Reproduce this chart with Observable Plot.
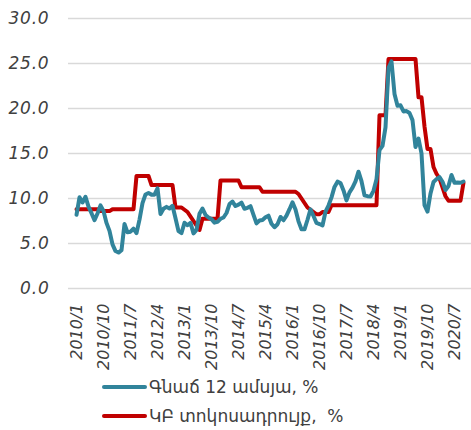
<!DOCTYPE html>
<html>
<head>
<meta charset="utf-8">
<script src="https://cdn.jsdelivr.net/npm/d3@7"></script>
<script src="https://cdn.jsdelivr.net/npm/@observablehq/plot@0.6"></script>
<style>
  html, body { margin: 0; padding: 0; background: #fff; }
  #chart { width: 471px; }
  #chart svg { display: block; overflow: visible; }
  [aria-label="y-axis tick label"] text { font-style: italic; font-size: 17px; letter-spacing: 0.8px; }
  [aria-label="x-axis tick label"] text { font-style: italic; font-size: 16px; }
  .legend { font-family: "DejaVu Sans", sans-serif; font-size: 17px; color: #404040; }
  .legend .row { display: flex; align-items: center; height: 29px; padding-left: 102px; }
  .legend .sw { width: 45px; height: 4px; border-radius: 2px; margin-right: 2px; }
</style>
</head>
<body>
<div id="chart"></div>
<script>
// Categories: months 2010/1 .. 2020/10
const startYear = 2010;
const monthCount = 130;
const months = [];
for (let i = 0; i < monthCount; i++) {
  months.push(`${startYear + Math.floor(i / 12)}/${(i % 12) + 1}`);
}

const tickLabels = ["2010/1","2010/10","2011/7","2012/4","2013/1","2013/10","2014/7","2015/4",
  "2016/1","2016/10","2017/7","2018/4","2019/1","2019/10","2020/7"];
const yTicks = [0, 5, 10, 15, 20, 25, 30];

const seriesNames = ["Գնաճ 12 ամսյա, %", "ԿԲ տոկոսադրույք,  %"];
const seriesColors = ["#31849B", "#C00000"];

// Inflation, 12-month, %
const inflation = [
  8.19, 10.13, 9.56, 10.19, 9.10, 8.37, 7.58, 8.33, 9.24, 8.62, 7.29, 6.40,
  4.90, 4.16, 3.99, 4.26, 7.17, 6.24, 6.31, 6.65, 6.15, 7.66, 9.48, 10.45,
  10.61, 10.43, 10.43, 11.14, 8.28, 8.87, 9.07, 8.88, 9.19, 7.80, 6.37, 6.16,
  7.31, 7.03, 7.29, 6.13, 6.51, 8.30, 8.88, 8.17, 7.88, 7.71, 7.32, 7.40,
  7.75, 7.89, 8.39, 9.38, 9.66, 9.16, 9.32, 9.54, 8.86, 8.96, 9.15, 8.17,
  7.24, 7.55, 7.61, 7.91, 8.09, 7.20, 6.81, 7.14, 7.95, 7.58, 8.10, 8.81,
  9.58, 8.78, 7.46, 6.57, 6.58, 7.64, 8.79, 8.05, 7.28, 7.16, 7.00, 8.53,
  9.22, 10.13, 11.29, 11.87, 11.72, 10.90, 9.79, 10.68, 11.20, 11.90, 12.98, 11.92,
  10.35, 10.26, 10.23, 10.85, 12.15, 15.39, 15.85, 17.90, 24.52, 25.24, 21.62, 20.30,
  20.35, 19.67, 19.71, 19.50, 18.71, 15.72, 16.65, 15.01, 9.26, 8.55, 10.56, 11.84,
  12.15, 12.37, 11.86, 10.94, 11.39, 12.62, 11.76, 11.77, 11.75, 11.89
];

// Central bank rate, %
const policyRate = [
  8.8, 8.8, 8.8, 8.8, 8.8, 8.8, 8.8, 8.8, 8.6, 8.6, 8.6, 8.6,
  8.8, 8.8, 8.8, 8.8, 8.8, 8.8, 8.8, 8.8, 12.5, 12.5, 12.5, 12.5,
  12.5, 11.5, 11.5, 11.5, 11.5, 11.5, 11.5, 11.5, 11.5, 9.0, 9.0, 9.0,
  8.75, 8.5, 8.0, 7.5, 7.0, 6.5, 7.75, 7.75, 7.75, 7.75, 7.75, 7.75,
  12.0, 12.0, 12.0, 12.0, 12.0, 12.0, 12.0, 11.25, 11.25, 11.25, 11.25, 11.25,
  11.25, 11.25, 10.75, 10.75, 10.75, 10.75, 10.75, 10.75, 10.75, 10.75, 10.75, 10.75,
  10.75, 10.75, 10.5, 10.0, 9.5, 9.0, 8.75, 8.5, 8.25, 8.25, 8.5, 8.5,
  8.5, 9.25, 9.25, 9.25, 9.25, 9.25, 9.25, 9.25, 9.25, 9.25, 9.25, 9.25,
  9.25, 9.25, 9.25, 9.25, 9.25, 19.25, 19.25, 19.25, 25.5, 25.5, 25.5, 25.5,
  25.5, 25.5, 25.5, 25.5, 25.5, 25.5, 21.25, 21.25, 18.0, 15.5, 15.5, 13.5,
  12.75, 12.25, 11.25, 10.25, 9.75, 9.75, 9.75, 9.75, 9.75, 11.75
];

const infData = months.map((m, i) => ({month: m, value: inflation[i]}));
const rateData = months.map((m, i) => ({month: m, value: policyRate[i]}));

const plot = Plot.plot({
  width: 471,
  height: 372,
  marginTop: 18,
  marginBottom: 84,
  marginLeft: 68,
  marginRight: 0,
  style: {fontFamily: "DejaVu Sans, sans-serif", color: "#404040", background: "#fff"},
  x: {type: "point", domain: months, padding: 0.5},
  y: {domain: [0, 30]},
  marks: [
    Plot.gridY(yTicks, {stroke: "#d9d9d9", strokeOpacity: 1, strokeWidth: 1.3}),
    Plot.axisY(yTicks, {tickSize: 0, tickPadding: 19, tickFormat: d => d.toFixed(1), label: null, fill: "#404040"}),
    Plot.axisX({ticks: tickLabels, tickSize: 0, tickPadding: 15, tickRotate: -90, label: null, fill: "#404040"}),
    Plot.line(rateData, {x: "month", y: "value", stroke: seriesColors[1], strokeWidth: 4, strokeLinejoin: "round"}),
    Plot.line(infData, {x: "month", y: "value", stroke: seriesColors[0], strokeWidth: 4, strokeLinejoin: "round"})
  ]
});
document.getElementById("chart").appendChild(plot);

const legend = document.createElement("div");
legend.className = "legend";
seriesNames.forEach((name, i) => {
  const row = document.createElement("div");
  row.className = "row";
  const sw = document.createElement("div");
  sw.className = "sw";
  sw.style.background = seriesColors[i];
  const label = document.createElement("span");
  label.textContent = name;
  label.style.whiteSpace = "pre";
  row.appendChild(sw);
  row.appendChild(label);
  legend.appendChild(row);
});
document.getElementById("chart").appendChild(legend);
</script>
</body>
</html>
